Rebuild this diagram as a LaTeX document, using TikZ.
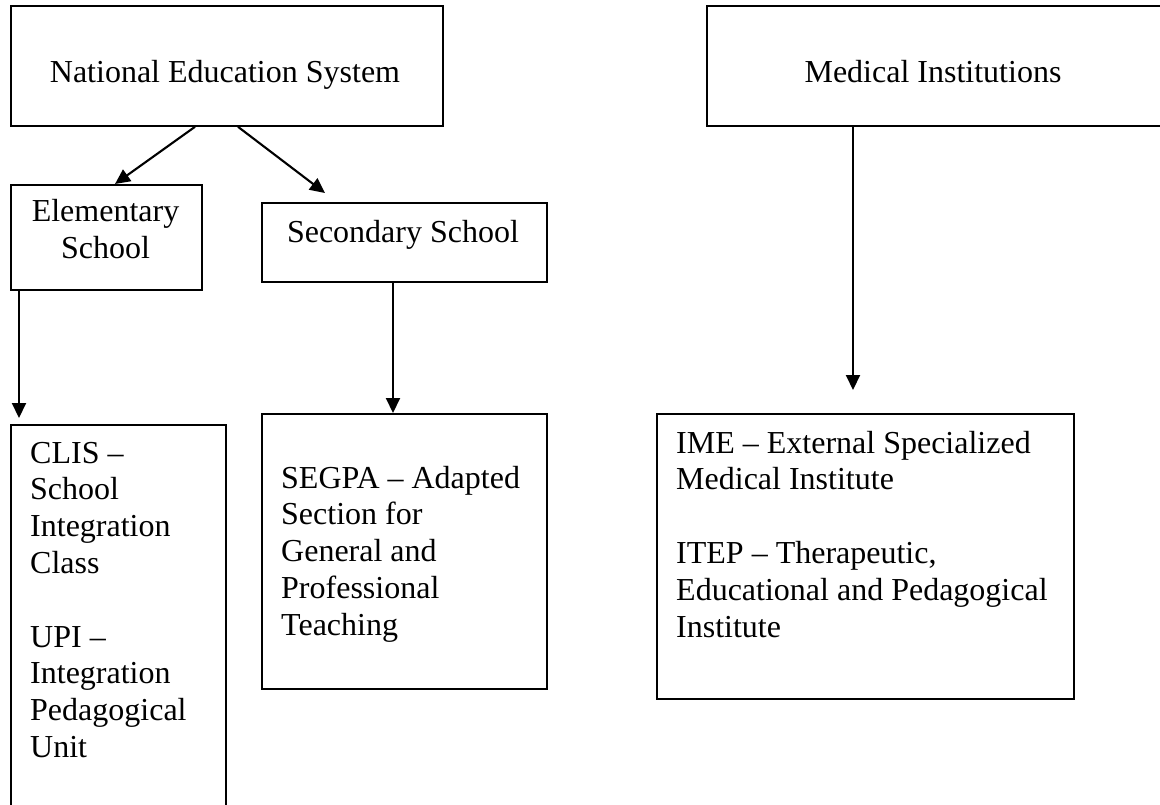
\documentclass[tikz,border=0pt]{standalone}
\usepackage{fontspec}
\setmainfont{Liberation Serif}
\usetikzlibrary{arrows.meta}
\tikzset{
  boxnode/.style={draw, line width=1.8pt, inner sep=0pt, anchor=north west},
  txt/.style={inner sep=0pt, font=\fontsize{32}{36.8}\selectfont},
  conn/.style={line width=2.1pt, -{Triangle[length=15pt,width=14pt]}}
}
\begin{document}
\begin{tikzpicture}[x=1pt,y=-1pt]
\useasboundingbox (0,0) rectangle (1160,805);
\fill[white] (0,0) rectangle (1160,805);
% boxes
\node[boxnode, minimum width=432pt, minimum height=120pt] (nes) at (10,5) {};
\node[boxnode, minimum width=460pt, minimum height=120pt] (med) at (706,5) {};
\node[boxnode, minimum width=191pt, minimum height=105pt] (elem) at (10,184) {};
\node[boxnode, minimum width=285pt, minimum height=79pt] (sec) at (261,202) {};
\node[boxnode, minimum width=215pt, minimum height=400pt] (clis) at (10,424) {};
\node[boxnode, minimum width=285pt, minimum height=275pt] (segpa) at (261,413) {};
\node[boxnode, minimum width=417pt, minimum height=285pt] (ime) at (656,413) {};
% texts
\node[txt, anchor=base] (nest) at (225,83) {National Education System};
\node[txt, anchor=base] (medt) at (933,83) {Medical Institutions};
\node[txt, anchor=base] (elemt) at (105.5,222) {\begin{tabular}[t]{@{}c@{}}Elementary\\School\end{tabular}};
\node[txt, anchor=base] (sect) at (403,243) {Secondary School};
\node[txt, anchor=base west] (clist) at (30,463) {\begin{tabular}[t]{@{}l@{}}CLIS --\\School\\Integration\\Class\\ \\UPI --\\Integration\\Pedagogical\\Unit\end{tabular}};
\node[txt, anchor=base west] (segpat) at (281,488) {\begin{tabular}[t]{@{}l@{}}SEGPA -- Adapted\\Section for\\General and\\Professional\\Teaching\end{tabular}};
\node[txt, anchor=base west] (imet) at (676,453) {\begin{tabular}[t]{@{}l@{}}IME -- External Specialized\\Medical Institute\\ \\ITEP -- Therapeutic,\\Educational and Pedagogical\\Institute\end{tabular}};
% free ends
\coordinate (c2) at (325,193);
\coordinate (c3) at (19,418);
\coordinate (c5) at (853,390);
% connectors
\draw[conn] ([xshift=185pt]nes.south west) -- ([xshift=105pt]elem.north west);
\draw[conn] ([xshift=228pt]nes.south west) -- (c2);
\draw[conn] ([xshift=9pt]elem.south west) -- (c3);
\draw[conn] ([xshift=132pt]sec.south west) -- ([xshift=132pt]segpa.north west);
\draw[conn] ([xshift=147pt]med.south west) -- (c5);
\end{tikzpicture}
\end{document}
